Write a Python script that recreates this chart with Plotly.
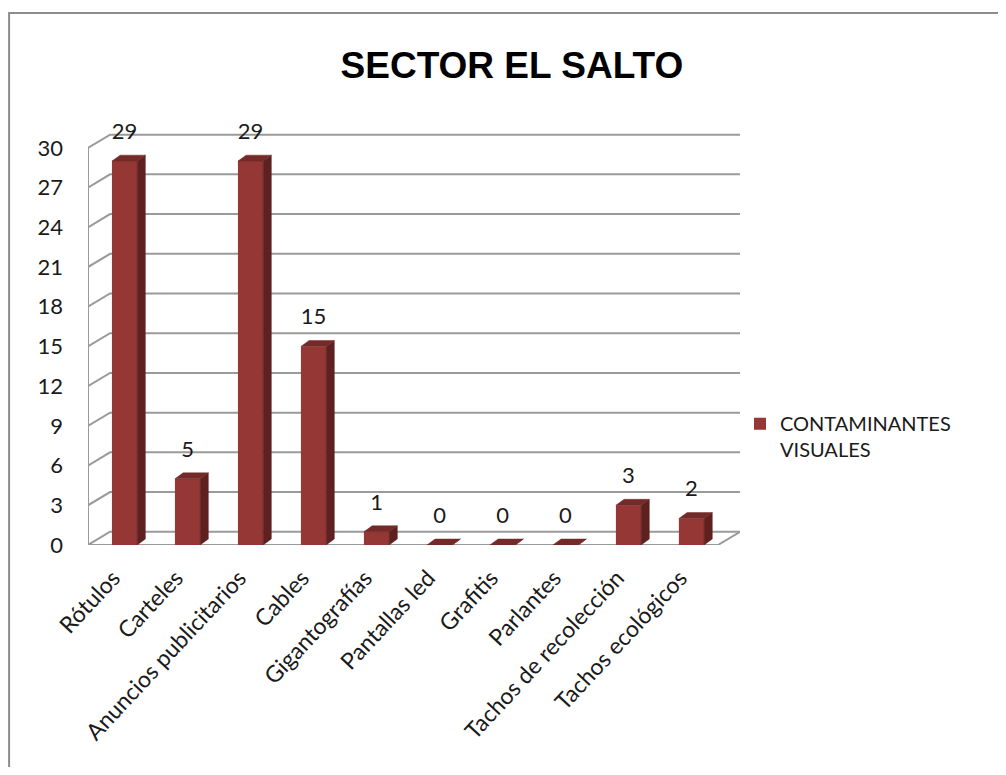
"""Pseudo-3D column chart: visual pollutants counted in Sector El Salto."""

import plotly.graph_objects as go

CATEGORIES = [
    "Rótulos", "Carteles", "Anuncios publicitarios", "Cables", "Gigantografías",
    "Pantallas led", "Grafitis", "Parlantes", "Tachos de recolección", "Tachos ecológicos",
]
VALUES = [29, 5, 29, 15, 1, 0, 0, 0, 3, 2]
Y_TICKS = [0, 3, 6, 9, 12, 15, 18, 21, 24, 27, 30]
SERIES_NAME = "CONTAMINANTES<br>VISUALES"

FRONT = "#953735"
SIDE = "#5e2120"
TOP = "#742a28"
GRID = "#9a9a9a"
FONT = "Lato, Carlito, Calibri, sans-serif"

# fake-3D geometry (data units)
BAR_SHIFT = 0.08
HALF_W = 0.2
DEPTH_X = 0.13
DEPTH_Y = 0.45
WALL_DX = 0.35
WALL_DY = 1.0
X_MIN, X_MAX = -0.5, len(CATEGORIES) - 0.5

xs = [i + BAR_SHIFT for i in range(len(CATEGORIES))]

side_x, side_y, top_x, top_y = [], [], [], []
for x, v in zip(xs, VALUES):
    r = x + HALF_W
    side_x += [r, r, r + DEPTH_X, r + DEPTH_X, r, None]
    side_y += [0, v, v + DEPTH_Y, DEPTH_Y, 0, None]
    l = x - HALF_W
    top_x += [l, r, r + DEPTH_X, l + DEPTH_X, l, None]
    top_y += [v, v, v + DEPTH_Y, v + DEPTH_Y, v, None]

fig = go.Figure()
fig.add_trace(go.Bar(
    x=xs, y=VALUES, width=2 * HALF_W,
    marker=dict(color=FRONT, line=dict(width=0)),
    name=SERIES_NAME, hoverinfo="skip",
))
fig.add_trace(go.Scatter(
    x=side_x, y=side_y, mode="lines", fill="toself", fillcolor=SIDE,
    line=dict(color=SIDE, width=0.5), showlegend=False, hoverinfo="skip",
))
fig.add_trace(go.Scatter(
    x=top_x, y=top_y, mode="lines", fill="toself", fillcolor=TOP,
    line=dict(color=TOP, width=0.5), showlegend=False, hoverinfo="skip",
))
fig.add_trace(go.Scatter(
    x=xs, y=[v + 1.25 for v in VALUES], mode="text",
    text=[str(v) for v in VALUES], textposition="top center",
    textfont=dict(family=FONT, size=22, color="#1a1a1a"),
    showlegend=False, hoverinfo="skip", cliponaxis=False,
))

# walls and floor, drawn under the bars
shapes = []
for t in Y_TICKS:
    shapes.append(dict(
        type="path", xref="x", yref="y", layer="below",
        path=f"M {X_MIN},{t} L {X_MIN + WALL_DX},{t + WALL_DY} L {X_MAX + WALL_DX},{t + WALL_DY}",
        line=dict(color=GRID, width=2),
    ))
shapes.append(dict(
    type="path", xref="x", yref="y", layer="below",
    path=f"M {X_MIN},{Y_TICKS[-1]} L {X_MIN},0 L {X_MAX},0 L {X_MAX + WALL_DX},{WALL_DY}",
    line=dict(color=GRID, width=2),
))
# chart border
shapes.append(dict(
    type="rect", xref="paper", yref="paper",
    x0=-0.121, x1=1.42, y0=-0.58, y1=1.288,
    line=dict(color="#8c8c8c", width=2), fillcolor="rgba(0,0,0,0)",
))

# page body keeps an 8px margin, so the figure is 16px smaller than the window
fig.update_layout(
    width=990, height=759,
    margin=dict(l=80, r=258, t=124, b=222, autoexpand=False),
    paper_bgcolor="white", plot_bgcolor="white",
    title=dict(
        text="<b>SECTOR EL SALTO</b>", x=0.509, xanchor="center", y=0.925, yanchor="middle",
        font=dict(family="Liberation Sans Narrow, Arial Narrow, Liberation Sans, sans-serif",
                  size=37, color="#000000"),
    ),
    xaxis=dict(
        range=[X_MIN, X_MAX + WALL_DX], tickvals=[i - 0.1 for i in range(len(CATEGORIES))],
        ticktext=CATEGORIES, tickangle=-47, showgrid=False, zeroline=False, showline=False,
        ticks="", automargin=False, ticklabelstandoff=14,
        tickfont=dict(family=FONT, size=23, color="#1a1a1a"),
    ),
    yaxis=dict(
        range=[0, 31.2], tickvals=Y_TICKS, showgrid=False, zeroline=False, showline=False,
        ticks="", ticklabelstandoff=24, automargin=False,
        tickfont=dict(family=FONT, size=22, color="#1a1a1a"),
    ),
    showlegend=True,
    legend=dict(
        x=1.0, y=0.341, xanchor="left", yanchor="top", valign="top",
        font=dict(family=FONT, size=20, color="#1a1a1a"),
        bgcolor="rgba(0,0,0,0)",
    ),
    shapes=shapes,
)

fig.write_html("out.html")
